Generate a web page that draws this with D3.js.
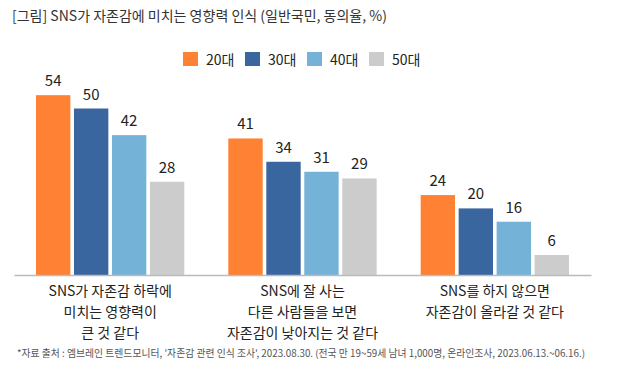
<!DOCTYPE html>
<html><head><meta charset="utf-8">
<script src="https://cdn.jsdelivr.net/npm/d3@7"></script>
<style>
html,body{margin:0;padding:0;background:#fff;}
text{font-family:"Noto Sans CJK KR","Noto Sans",sans-serif;}
</style></head>
<body>
<svg id="chart" width="622" height="378"></svg>
<script>
const title = "[그림] SNS가 자존감에 미치는 영향력 인식 (일반국민, 동의율, %)";
const footnote = "*자료 출처 : 엠브레인 트렌드모니터, '자존감 관련 인식 조사', 2023.08.30. (전국 만 19~59세 남녀 1,000명, 온라인조사, 2023.06.13.~06.16.)";
const categories = ["c1", "c2", "c3"];
const categoryLabels = [
  ["SNS가 자존감 하락에", "미치는 영향력이", "큰 것 같다"],
  ["SNS에 잘 사는", "다른 사람들을 보면", "자존감이 낮아지는 것 같다"],
  ["SNS를 하지 않으면", "자존감이 올라갈 것 같다"]
];
const seriesNames = ["20대", "30대", "40대", "50대"];
const v20 = [54, 41, 24];
const v30 = [50, 34, 20];
const v40 = [42, 31, 16];
const v50 = [28, 29, 6];
const seriesValues = [v20, v30, v40, v50];
const colors = ["#FF8133", "#3A66A0", "#74B2D8", "#CCCCCC"];

const svg = d3.select("#chart");

const x0 = d3.scaleBand().domain(categories).range([14, 591]).padding(0);
const x1 = d3.scaleBand().domain(seriesNames).range([22, 170.3]).paddingInner(0.095).paddingOuter(0);
const y = d3.scaleLinear().domain([0, 60]).range([275, 75.2]);
const color = d3.scaleOrdinal().domain(seriesNames).range(colors);

// title
svg.append("text").attr("x", 12).attr("y", 21)
  .attr("font-size", 14).attr("fill", "#333").text(title);

// legend
const leg = svg.append("g");
const legX = d3.scalePoint().domain(seriesNames).range([183, 369]);
seriesNames.forEach(s => {
  const g = leg.append("g").attr("transform", `translate(${legX(s)},0)`);
  g.append("rect").attr("x", 0).attr("y", 52).attr("width", 15).attr("height", 14).attr("fill", color(s));
  g.append("text").attr("x", 23).attr("y", 64.5).attr("font-size", 14).attr("fill", "#222").text(s);
});

// bars
const groups = svg.append("g").selectAll("g").data(categories).join("g")
  .attr("transform", d => `translate(${x0(d)},0)`);
groups.each(function(cat, ci) {
  const g = d3.select(this);
  seriesNames.forEach((s, si) => {
    const v = seriesValues[si][ci];
    g.append("rect").attr("x", x1(s)).attr("y", y(v))
      .attr("width", x1.bandwidth()).attr("height", y(0) - y(v))
      .attr("fill", color(s));
    g.append("text").attr("x", x1(s) + x1.bandwidth() / 2).attr("y", y(v) - 9)
      .attr("text-anchor", "middle").attr("font-size", 15).attr("fill", "#222").text(v);
  });
});

// axis
const xAxis = d3.axisBottom(x0).tickSize(0).tickFormat("");
const ax = svg.append("g").attr("transform", `translate(0,${y(0)})`).call(xAxis);
ax.select(".domain").attr("stroke", "#bbb").attr("stroke-width", 1.5);

// category labels
categories.forEach((c, i) => {
  const t = svg.append("text").attr("text-anchor", "middle").attr("font-size", 14).attr("fill", "#222");
  categoryLabels[i].forEach((line, li) => {
    t.append("tspan").attr("x", x0(c) + x0.bandwidth() / 2).attr("y", 296 + li * 21).text(line);
  });
});

// footnote
svg.append("text").attr("x", 17).attr("y", 357).attr("font-size", 10)
  .attr("fill", "#555").attr("textLength", 568).attr("lengthAdjust", "spacingAndGlyphs").text(footnote);
</script>
</body></html>
